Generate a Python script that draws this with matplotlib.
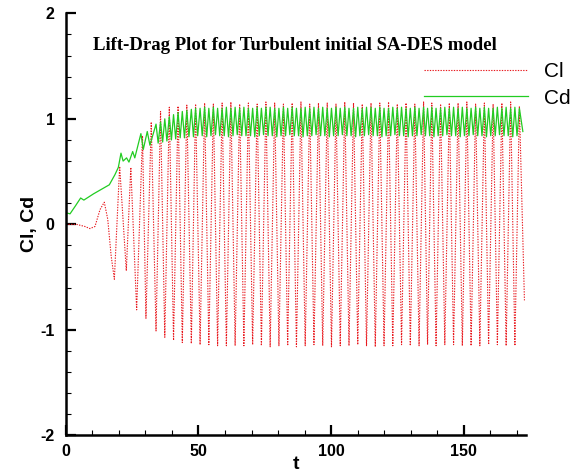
import numpy as np
import matplotlib.pyplot as plt
from matplotlib.ticker import MultipleLocator

# start-up transient, read point by point
cl_t0 = [0.0, 4.1, 7.2, 9.1, 11.0, 12.9, 14.5, 15.8, 17.1, 18.3,
         20.3, 22.8, 24.5, 26.7, 28.9, 30.2, 32.2]
cl_v0 = [0.0, 0.0, -0.02, -0.04, -0.02, 0.14, 0.21, 0.05, -0.30, -0.52,
         0.55, -0.44, 0.54, -0.81, 0.84, -0.89, 0.97]

# periodic shedding: lift troughs and peaks
cl_trough_t = [34.0, 37.3, 40.6, 43.9, 47.3, 50.6, 53.9, 57.2, 60.5, 63.8,
               67.1, 70.4, 73.7, 77.0, 80.3, 83.6, 86.9, 90.2, 93.5, 96.8,
               100.1, 103.4, 106.7, 110.0, 113.3, 116.6, 119.9, 123.2, 126.5, 129.8,
               133.1, 136.3, 139.5, 142.8, 146.1, 149.4, 152.7, 156.0, 159.3, 162.6,
               165.9, 169.2]
cl_trough_v = [-1.01, -1.07, -1.10, -1.12, -1.13, -1.14, -1.14, -1.15, -1.15, -1.15,
               -1.15, -1.14, -1.15, -1.16, -1.15, -1.15, -1.16, -1.15, -1.14, -1.15,
               -1.16, -1.15, -1.15, -1.14, -1.15, -1.16, -1.15, -1.15, -1.14, -1.15,
               -1.15, -1.14, -1.15, -1.14, -1.14, -1.15, -1.15, -1.15, -1.14, -1.14,
               -1.15, -1.15]
cl_peak_t = [35.7, 39.0, 42.3, 45.6, 48.9, 52.3, 55.6, 58.9, 62.2, 65.5,
             68.8, 72.1, 75.4, 78.7, 82.0, 85.3, 88.6, 91.9, 95.2, 98.5,
             101.8, 105.1, 108.4, 111.7, 115.0, 118.3, 121.6, 124.9, 128.2, 131.5,
             134.8, 137.9, 141.2, 144.5, 147.8, 151.1, 154.4, 157.7, 161.0, 164.3,
             167.6, 170.9]
cl_peak_v = [1.07, 1.11, 1.12, 1.13, 1.14, 1.15, 1.14, 1.15, 1.16, 1.14,
             1.15, 1.14, 1.16, 1.15, 1.14, 1.15, 1.16, 1.14, 1.15, 1.15,
             1.14, 1.16, 1.15, 1.14, 1.15, 1.15, 1.16, 1.14, 1.15, 1.14,
             1.16, 1.15, 1.14, 1.15, 1.15, 1.16, 1.14, 1.15, 1.14, 1.15,
             1.16, 1.12]
cl_end = (172.8, -0.72)

cd_t0 = [0.0, 1.6, 3.5, 5.6, 6.8, 10.5, 16.4, 18.5, 19.8, 20.8,
         21.6, 22.9, 23.8, 25.2, 26.0, 28.3, 29.2, 30.7, 31.7]
cd_v0 = [0.11, 0.10, 0.17, 0.25, 0.23, 0.29, 0.375, 0.47, 0.54, 0.675,
         0.60, 0.63, 0.59, 0.69, 0.63, 0.86, 0.71, 0.88, 0.75]

# drag peaks sit on the lift extremes, minima in between
cd_hi_v = [0.95, 0.97, 1.00, 1.02, 1.04, 1.06, 1.07, 1.08, 1.09, 1.10,
           1.10, 1.11, 1.10, 1.11, 1.10, 1.10, 1.11, 1.10, 1.11, 1.10,
           1.11, 1.10, 1.10, 1.11, 1.10, 1.11, 1.11, 1.10, 1.10, 1.11,
           1.10, 1.11, 1.10, 1.10, 1.11, 1.10, 1.11, 1.10, 1.11, 1.10,
           1.10, 1.11, 1.10, 1.11, 1.10, 1.10, 1.11, 1.10, 1.11, 1.11,
           1.10, 1.11, 1.10, 1.10, 1.11, 1.10, 1.11, 1.10, 1.10, 1.11,
           1.10, 1.11, 1.10, 1.11, 1.10, 1.10, 1.11, 1.10, 1.11, 1.10,
           1.11, 1.10, 1.10, 1.11, 1.10, 1.11, 1.10, 1.10, 1.11, 1.10,
           1.11, 1.10, 1.11, 1.10]
cd_lo_t = [34.8, 36.5, 38.1, 39.8, 41.4, 43.1, 44.7, 46.4, 48.1, 49.7,
           51.4, 53.1, 54.7, 56.4, 58.0, 59.7, 61.3, 63.0, 64.6, 66.3,
           67.9, 69.6, 71.2, 72.9, 74.5, 76.2, 77.8, 79.5, 81.1, 82.8,
           84.4, 86.1, 87.7, 89.4, 91.0, 92.7, 94.3, 96.0, 97.6, 99.3,
           100.9, 102.6, 104.2, 105.9, 107.5, 109.2, 110.8, 112.5, 114.1, 115.8,
           117.4, 119.1, 120.7, 122.4, 124.0, 125.7, 127.3, 129.0, 130.6, 132.3,
           133.9, 135.5, 137.1, 138.7, 140.3, 142.0, 143.6, 145.3, 146.9, 148.6,
           150.2, 151.9, 153.5, 155.2, 156.8, 158.5, 160.1, 161.8, 163.4, 165.1,
           166.7, 168.4, 170.0]
cd_lo_v = [0.77, 0.78, 0.79, 0.80, 0.81, 0.82, 0.82, 0.83, 0.83, 0.84,
           0.84, 0.83, 0.84, 0.85, 0.84, 0.84, 0.83, 0.84, 0.85, 0.84,
           0.84, 0.84, 0.83, 0.84, 0.85, 0.84, 0.84, 0.83, 0.84, 0.84,
           0.85, 0.84, 0.84, 0.83, 0.84, 0.84, 0.85, 0.84, 0.84, 0.83,
           0.84, 0.84, 0.85, 0.84, 0.84, 0.83, 0.84, 0.84, 0.85, 0.84,
           0.84, 0.83, 0.84, 0.84, 0.85, 0.84, 0.84, 0.83, 0.84, 0.84,
           0.85, 0.84, 0.84, 0.83, 0.84, 0.84, 0.85, 0.84, 0.84, 0.83,
           0.84, 0.84, 0.85, 0.84, 0.84, 0.83, 0.84, 0.84, 0.85, 0.84,
           0.84, 0.83, 0.84]
cd_end = (172.2, 0.88)


def series(t0, v0, ts, vs, end):
    t = np.concatenate([t0, *ts, [end[0]]])
    v = np.concatenate([v0, *vs, [end[1]]])
    order = np.argsort(t, kind='stable')
    return t[order], v[order]


def main():
    plt.rcParams['axes.unicode_minus'] = False

    cl_t, cl = series(cl_t0, cl_v0, [cl_trough_t, cl_peak_t],
                      [cl_trough_v, cl_peak_v], cl_end)
    cd_hi_t = np.sort(np.concatenate([cl_trough_t, cl_peak_t]))
    cd_t, cd = series(cd_t0, cd_v0, [cd_hi_t, cd_lo_t],
                      [cd_hi_v, cd_lo_v], cd_end)

    fig = plt.figure(figsize=(5.73, 4.74), dpi=100)
    ax = fig.add_axes([0.1148, 0.0814, 0.8037, 0.8905])

    ax.plot(cl_t, cl, color='#e8191e', lw=0.8, linestyle=(0, (1.2, 1.2)), label='Cl')
    ax.plot(cd_t, cd, color='#22cc22', lw=0.9, label='Cd')

    ax.set_xlim(0, 173.5)
    ax.set_ylim(-2, 2)
    for side in ('top', 'right'):
        ax.spines[side].set_visible(False)
    for side in ('left', 'bottom'):
        ax.spines[side].set_linewidth(1.8)

    ax.xaxis.set_major_locator(MultipleLocator(50))
    ax.xaxis.set_minor_locator(MultipleLocator(10))
    ax.yaxis.set_major_locator(MultipleLocator(1))
    ax.yaxis.set_minor_locator(MultipleLocator(0.2))
    ax.tick_params(which='major', direction='in', length=7.5, width=1.6, pad=6)
    ax.tick_params(which='minor', direction='in', length=3.8, width=0.8)
    ax.tick_params(axis='y', which='major', pad=8)
    for lab in ax.get_xticklabels() + ax.get_yticklabels():
        lab.set_fontfamily('Liberation Sans')
        lab.set_fontweight('bold')
        lab.set_fontsize(11.5)

    ax.set_xlabel('t', fontfamily='Liberation Sans', fontweight='bold',
                  fontsize=14, labelpad=-2)
    ax.set_ylabel('Cl, Cd', fontfamily='Liberation Sans', fontweight='bold',
                  fontsize=14, labelpad=2)

    fig.text(0.515, 1 - 45 / 474, 'Lift-Drag Plot for Turbulent initial SA-DES model',
             ha='center', va='center', fontfamily='Liberation Serif',
             fontweight='bold', fontsize=13.5)

    ax.legend(loc='upper left', bbox_to_anchor=(424 / 573, 1 - 62 / 474),
              bbox_transform=fig.transFigure, frameon=False,
              prop={'family': 'Liberation Sans', 'size': 15},
              handlelength=5.0, handletextpad=0.75, labelspacing=0.36,
              borderpad=0, borderaxespad=0)

    fig.savefig('out.png', dpi=100)


if __name__ == '__main__':
    main()
